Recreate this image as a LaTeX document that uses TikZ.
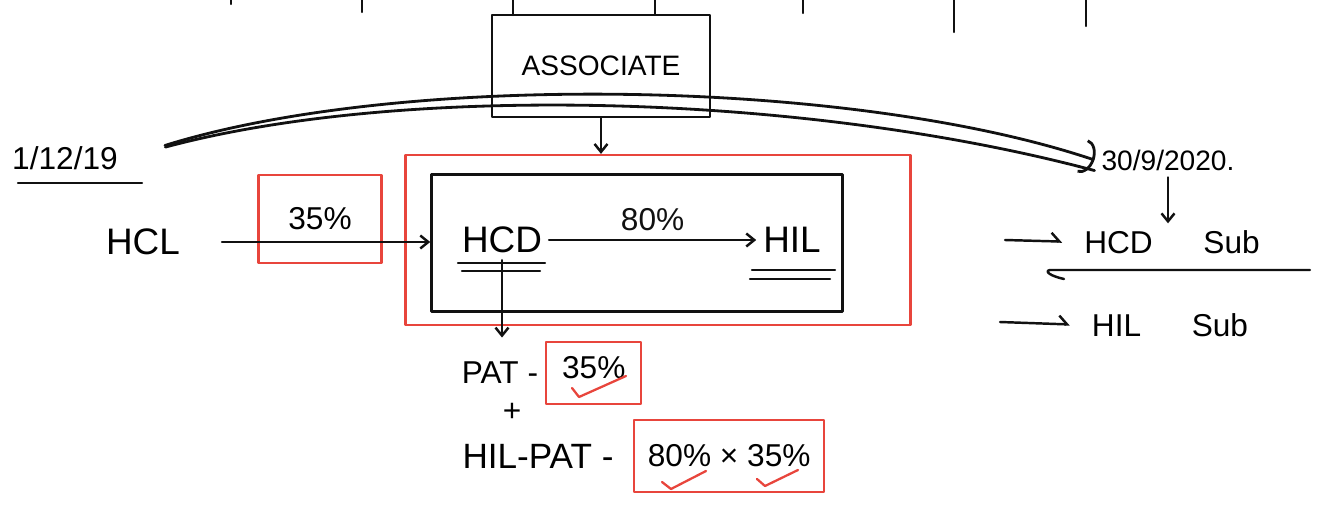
\documentclass[tikz,border=0pt]{standalone}
\usepackage{fontspec}
\setmainfont{Liberation Sans}
\usepackage{tikz}
\usetikzlibrary{arrows.meta,positioning,calc}
\definecolor{penred}{HTML}{E8453C}
\definecolor{ink}{HTML}{111111}

\begin{document}
\begin{tikzpicture}[
  x=0.02cm, y=-0.02cm,
  font=\fontsize{18}{20}\selectfont,
  line width=1.4pt, line cap=round, line join=round,
  sm/.style   ={font=\fontsize{16}{18}\selectfont},
  bg/.style   ={font=\fontsize{21}{23}\selectfont},
  bx/.style   ={draw=ink, line width=1.5pt, inner sep=0pt},
  redbx/.style={draw=penred, line width=1.3pt, inner sep=0pt},
  tick/.style ={penred, line width=1.3pt},
  ar/.style   ={-{Straight Barb[length=1.6mm, width=2.6mm]}, ink},
  hook/.style ={-{Straight Barb[left, length=1.6mm, width=3.4mm]}, ink}
]
\useasboundingbox (0,0) rectangle (1319,507);

% ---------- stubs of the cut-off row above ----------
\foreach \x/\h in {231/4, 362/12, 513/15, 655/14, 803/13, 954/32, 1086/26}
  \draw[ink] (\x,0) -- (\x,\h);

% ---------- associate ----------
\node[bx, sm, minimum width=4.36cm, minimum height=2.04cm] (assoc) at (601,66) {ASSOCIATE};

% ---------- left side ----------
\node (d1)  at (65,158)  {1/12/19};
\draw[ink] (18,183) -- (142,183);
\node[bg] (hcl) at (143,242) {HCL};
\node[redbx, minimum width=2.46cm, minimum height=1.76cm] (pc1) at (320,219) {35\%};

% ---------- group boxes ----------
\node[redbx, minimum width=10.1cm, minimum height=3.4cm] (grp)  at (658,240) {};
\node[bx, minimum width=8.22cm, minimum height=2.74cm]   (inbx) at (637,243) {};

\node[bg] (hcd) at (502,240) {HCD};
\node[bg] (hil) at (792,240) {HIL};
\draw[ink] (458,263) -- (545,263);
\draw[ink] (462,271) -- (540,271);
\draw[ink] (752,270) -- (835,270);
\draw[ink] (750,279) -- (830,279);

\draw[ar] (assoc.south) -- (assoc.south |- grp.north);
\draw[ar, shorten <=0.7cm] (hcl) -- (hcl -| inbx.west);
\draw[ar] (hcd) -- node[above=1pt]{80\%} (hil);

% ---------- below ----------
\node (pat) at (500,373) {PAT -};
\node[redbx, right=0cm of pat, minimum width=1.9cm, minimum height=1.24cm, text depth=6pt] (pc2) {35\%};
\node (plus) at (512,412) {+};
\node[font=\fontsize{20}{22}\selectfont] (hilpat) at (538,456) {HIL-PAT -};
\node[redbx, right=0.25cm of hilpat, minimum width=3.8cm, minimum height=1.44cm] (pc3) {80\% × 35\%};

\draw[ar, shorten >=0.35cm] (hcd.south) -- (hcd.south |- pat.north);

\draw[tick] (572,388) -- (579,397) -- (626,376);
\draw[tick] (662,482) -- (671,489) -- (706,471);
\draw[tick] (757,479) -- (765,486) -- (798,470);

% ---------- right side ----------
\node[sm] (d2) at (1168,160) {30/9/2020.};
\node (hcdsub) at (1172,242) {HCD\hspace{1.6em}Sub};
\node (hilsub) at (1170,325) {HIL\hspace{1.6em}Sub};

\draw[ink, line width=1.6pt, -{Arc Barb[length=2.5mm, width=7mm]}, shorten <=0.84cm]
  (d1.east) .. controls (400,72) and (850,78) .. (d2.west);
\draw[ink, line width=1.6pt, shorten <=0.84cm]
  (d1.east) .. controls (400,84) and (800,92) .. ([yshift=-6pt]d2.west);

\draw[ar] (d2.south) -- (d2.south |- hcdsub.north);
\coordinate (h1) at (1005,240);
\coordinate (h2) at (1000,322);
\draw[hook, shorten >=0.3cm] (h1) -- (hcdsub.west);
\draw[hook, shorten >=0.3cm] (h2) -- (hilsub.west);
\draw[ink] (1064,279) .. controls (1050,276) and (1044,271) .. (1050,270) -- (1310,270);
\end{tikzpicture}
\end{document}
